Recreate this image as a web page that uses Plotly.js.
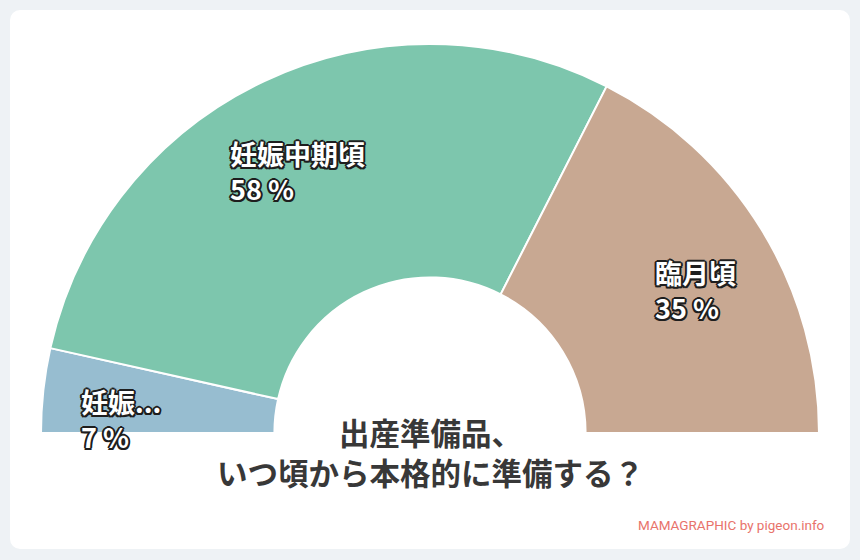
<!DOCTYPE html>
<html>
<head>
<meta charset="utf-8">
<script src="https://cdn.plot.ly/plotly-3.0.1.min.js"></script>
<style>
  html, body { margin: 0; padding: 0; width: 860px; height: 560px; overflow: hidden; background: #eef2f5; }
  #card { position: absolute; left: 10px; top: 10px; width: 840px; height: 539px; background: #ffffff; border-radius: 10px; }
  #chart { position: absolute; left: 0; top: 0; width: 860px; height: 866px; }
</style>
</head>
<body>
<div id="card"></div>
<div id="chart"></div>
<script>
// ---- data ----
const categories = ["妊娠...", "妊娠中期頃", "臨月頃"];
const percentages = [7, 58, 35];
const sliceColors = ["#97bdd0", "#7dc6ad", "#c8a892"];
const titleLines = ["出産準備品、", "いつ頃から本格的に準備する？"];
const creditText = "MAMAGRAPHIC by pigeon.info";

// ---- geometry (layout) ----
const W = 860, H = 866;            // plot div (lower half is hidden off-screen)
const CX = 430, CY = 433, R = 389; // centre & radius of the half donut in px
const HOLE = 0.4;

const total = percentages.reduce((a, b) => a + b, 0);

const trace = {
  type: "pie",
  values: percentages.concat([total]),      // hidden half fills the lower semicircle
  labels: categories.concat(["__hidden__"]),
  sort: false,
  direction: "clockwise",
  rotation: -90,
  hole: HOLE,
  textinfo: "none",
  hoverinfo: "skip",
  showlegend: false,
  marker: {
    colors: sliceColors.concat(["rgba(0,0,0,0)"]),
    line: {
      color: ["#ffffff", "#ffffff", "#ffffff", "rgba(0,0,0,0)"],
      width: [2, 2, 2, 0]
    }
  },
  domain: { x: [(CX - R) / W, (CX + R) / W], y: [0, 1] }
};

function toPaper(x, y) { return { x: x / W, y: 1 - y / H }; }

const outline = "#1e1e1e";
const shadow = [
  "-1.5px -1.5px 0 " + outline, "1.5px -1.5px 0 " + outline,
  "-1.5px 1.5px 0 " + outline, "1.5px 1.5px 0 " + outline,
  "0 2px 0 " + outline, "0 -2px 0 " + outline,
  "2px 0 0 " + outline, "-2px 0 0 " + outline
].join(", ");

const annotations = [];
let cum = 0;
percentages.forEach((v, i) => {
  const mid = (cum + v / 2) / total;
  cum += v;
  const theta = mid * Math.PI;       // measured from the left, going over the top
  const r = 0.8 * R;
  const p = toPaper(CX - r * Math.cos(theta), CY - r * Math.sin(theta));
  annotations.push({
    xref: "paper", yref: "paper", x: p.x, y: p.y,
    xanchor: "center", yanchor: "middle", yshift: -20,
    align: "left", showarrow: false,
    text: categories[i] + "<br>" + v + " %",
    font: { family: "Noto Sans CJK JP, sans-serif", size: 27, color: "#ffffff", weight: "bold", shadow: shadow }
  });
});

const tp = toPaper(CX, 452);
annotations.push({
  xref: "paper", yref: "paper", x: tp.x, y: tp.y,
  xanchor: "center", yanchor: "middle", align: "center", showarrow: false,
  text: titleLines.join("<br>"),
  font: { family: "Noto Sans CJK JP, sans-serif", size: 30.5, color: "#383838", weight: "bold" }
});

const cp = toPaper(827, 525);
annotations.push({
  xref: "paper", yref: "paper", x: cp.x, y: cp.y,
  xanchor: "right", yanchor: "middle", showarrow: false,
  text: creditText,
  font: { family: "Roboto, sans-serif", size: 13.5, color: "#e8736b" }
});

const layout = {
  width: W, height: H,
  margin: { l: 0, r: 0, t: 0, b: 0 },
  paper_bgcolor: "rgba(0,0,0,0)",
  plot_bgcolor: "rgba(0,0,0,0)",
  showlegend: false,
  annotations: annotations
};

Plotly.newPlot("chart", [trace], layout, { displayModeBar: false, staticPlot: true });
</script>
</body>
</html>
